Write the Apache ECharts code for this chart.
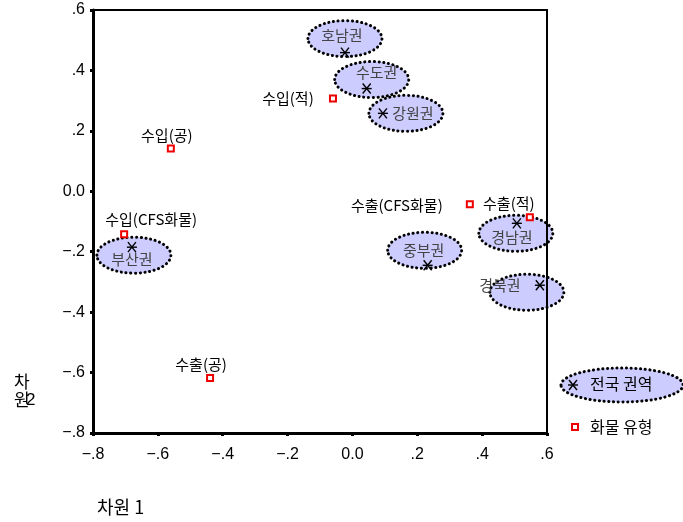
<!DOCTYPE html>
<html>
<head>
<meta charset="utf-8">
<script src="https://cdn.jsdelivr.net/npm/echarts@6/dist/echarts.min.js"></script>
<style>
  html, body { margin: 0; padding: 0; background: #fff; }
  #main { width: 683px; height: 522px; }
</style>
</head>
<body>
<div id="main"></div>
<script>
// 권역 (별표 점)
const regionNames = ['호남권', '수도권', '강원권', '부산권', '중부권', '경남권', '경북권'];
const regionX = [-0.023, 0.044, 0.094, -0.680, 0.232, 0.507, 0.578];
const regionY = [0.459, 0.340, 0.258, -0.185, -0.245, -0.106, -0.311];

// 화물 유형 (빨간 사각형)
const productNames = ['수입(공)', '수입(적)', '수입(CFS화물)', '수출(공)', '수출(적)', '수출(CFS화물)'];
const productX = [-0.560, -0.060, -0.704, -0.439, 0.547, 0.362];
const productY = [0.142, 0.307, -0.142, -0.618, -0.086, -0.043];

const xTickLabels = ['−.8', '−.6', '−.4', '−.2', '0.0', '.2', '.4', '.6'];
const yTickLabels = ['−.8', '−.6', '−.4', '−.2', '0.0', '.2', '.4', '.6'];

// label placement (pixels), layout only
const bubbleOffset = [[0, -14], [5, -9], [23, 0], [2, 8], [-3, -15], [-1, 10], [-13, 7]];
const textOffset = [[-3, -17], [10, -16], [30, 0], [0, 12], [-4, -15], [-5, 14], [-40, 0]];
const productLabelOffset = [[-4, -13], [-45, 0], [27, -15], [-9, -14], [-21, -14], [-73, 1]];

const KR = "'Noto Sans CJK KR', sans-serif";
const NUM = "'Liberation Sans', Arial, sans-serif";

function tickText(labels) {
  return function (v) {
    const i = Math.round((v + 0.8) / 0.2);
    return labels[i] !== undefined ? labels[i] : '';
  };
}

function starShape(x, y) {
  return {
    type: 'group',
    children: [
      { type: 'line', shape: { x1: x - 5, y1: y, x2: x + 5, y2: y }, style: { stroke: '#000', lineWidth: 1.4 } },
      { type: 'line', shape: { x1: x - 4, y1: y - 5, x2: x + 4, y2: y + 5 }, style: { stroke: '#000', lineWidth: 1.4 } },
      { type: 'line', shape: { x1: x - 4, y1: y + 5, x2: x + 4, y2: y - 5 }, style: { stroke: '#000', lineWidth: 1.4 } }
    ]
  };
}

const regionData = regionNames.map((n, i) => ({ name: n, value: [regionX[i], regionY[i], i] }));
const productData = productNames.map((n, i) => ({
  name: n,
  value: [productX[i], productY[i]],
  label: { offset: productLabelOffset[i] }
}));

const chart = echarts.init(document.getElementById('main'));

const option = {
  backgroundColor: '#fff',
  animation: false,
  grid: { left: 93, right: 136, top: 10, bottom: 89, show: false },
  xAxis: [{
    type: 'value', min: -0.8, max: 0.6, interval: 0.2, z: 10,
    axisLine: { show: true, onZero: false, lineStyle: { color: '#000', width: 3 } },
    axisTick: { show: true, length: 3, lineStyle: { color: '#000', width: 3 } },
    axisLabel: { formatter: tickText(xTickLabels), color: '#000', fontSize: 16, fontFamily: NUM, margin: 14 },
    splitLine: { show: false }
  }, {
    type: 'value', position: 'top', min: -0.8, max: 0.6, z: 10,
    axisLine: { show: true, onZero: false, lineStyle: { color: '#000', width: 2 } },
    axisTick: { show: false }, axisLabel: { show: false }, splitLine: { show: false }
  }],
  yAxis: [{
    type: 'value', min: -0.8, max: 0.6, interval: 0.2, z: 10,
    axisLine: { show: true, onZero: false, lineStyle: { color: '#000', width: 3 } },
    axisTick: { show: true, length: 3, lineStyle: { color: '#000', width: 3 } },
    axisLabel: { formatter: tickText(yTickLabels), color: '#000', fontSize: 16, fontFamily: NUM, margin: 8 },
    splitLine: { show: false }
  }, {
    type: 'value', position: 'right', min: -0.8, max: 0.6, z: 10,
    axisLine: { show: true, onZero: false, lineStyle: { color: '#000', width: 2 } },
    axisTick: { show: false }, axisLabel: { show: false }, splitLine: { show: false }
  }],
  graphic: [
    { type: 'text', left: 97, top: 498, style: { text: '차원 1', font: '18px ' + KR, fill: '#000' } },
    { type: 'text', left: 14, top: 373, style: { text: '차', font: '17px ' + KR, fill: '#000' } },
    { type: 'text', left: 14, top: 391, style: { text: '원', font: '17px ' + KR, fill: '#000' } },
    { type: 'text', left: 26, top: 392, style: { text: '2', font: '17px ' + NUM, fill: '#000' } },
    // legend
    { type: 'ellipse', shape: { cx: 622, cy: 385, rx: 61, ry: 17 },
      style: { fill: '#ccccff', stroke: '#000', lineWidth: 3, lineDash: [0.1, 4.6], lineCap: 'round' } },
    starShape(573, 385),
    { type: 'text', left: 590, top: 376, style: { text: '전국 권역', font: '16px ' + KR, fill: '#000' } },
    { type: 'rect', shape: { x: 572, y: 424, width: 6, height: 6 },
      style: { fill: '#fff', stroke: '#e00', lineWidth: 2 } },
    { type: 'text', left: 590, top: 419, style: { text: '화물 유형', font: '16px ' + KR, fill: '#000' } }
  ],
  series: [{
    type: 'custom',
    name: '전국 권역',
    z: 1,
    clip: false,
    data: regionData,
    renderItem: function (params, api) {
      const i = api.value(2);
      const p = api.coord([api.value(0), api.value(1)]);
      const b = bubbleOffset[i], t = textOffset[i];
      const cs = params.coordSys;
      const right = cs.x + cs.width;
      return {
        type: 'group',
        children: [
          { type: 'ellipse', shape: { cx: p[0] + b[0], cy: p[1] + b[1], rx: 37, ry: 18 },
            style: { fill: '#ccccff', stroke: '#000', lineWidth: 3, lineDash: [0.1, 4.6], lineCap: 'round' } },
          { type: 'text', x: p[0] + t[0], y: p[1] + t[1],
            style: { text: regionNames[i], font: '15px ' + KR, fill: '#444', align: 'center', verticalAlign: 'middle' } },
          starShape(p[0], p[1]),
          // frame edge stays visible through the bubble
          { type: 'line', shape: { x1: right, y1: cs.y, x2: right, y2: cs.y + cs.height },
            style: { stroke: '#000', lineWidth: 2 } }
        ]
      };
    }
  }, {
    type: 'scatter',
    name: '화물 유형',
    z: 12,
    symbol: 'rect',
    symbolSize: 6,
    itemStyle: { color: '#fff', borderColor: '#e00', borderWidth: 2, opacity: 1 },
    label: {
      show: true, position: 'inside',
      formatter: '{b}', color: '#000', fontSize: 15, fontFamily: KR,
      align: 'center', verticalAlign: 'middle'
    },
    emphasis: { disabled: true },
    data: productData
  }]
};

chart.setOption(option);
</script>
</body>
</html>
